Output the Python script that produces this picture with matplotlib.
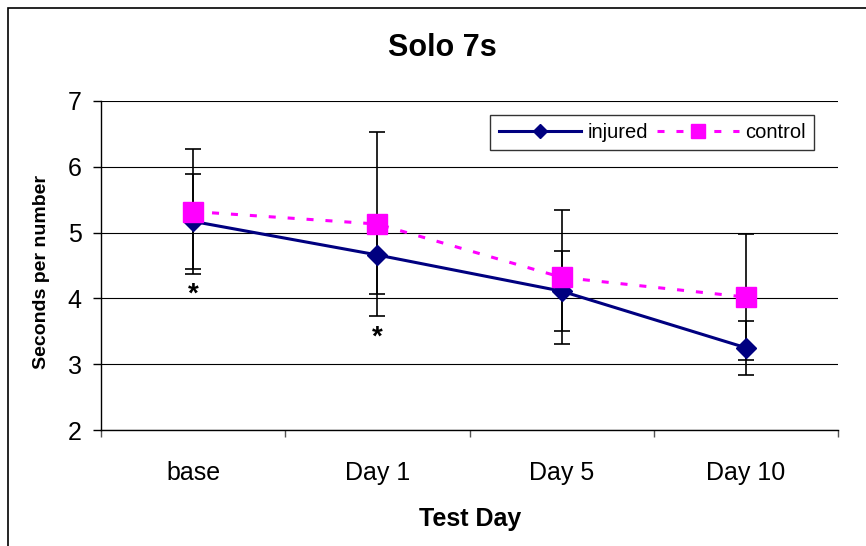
import matplotlib
matplotlib.use("Agg")
import matplotlib.pyplot as plt
from matplotlib.lines import Line2D
from matplotlib.patches import Rectangle
from matplotlib.transforms import offset_copy

categories = ['base', 'Day 1', 'Day 5', 'Day 10']
injured = [5.17, 4.66, 4.11, 3.25]
injured_err = [0.72, 0.59, 0.61, 0.41]
control = [5.32, 5.13, 4.32, 4.02]
control_err = [0.95, 1.40, 1.02, 0.96]
significant = [True, True, False, False]
yticks = [2, 3, 4, 5, 6, 7]

plt.rcParams['font.family'] = ['Liberation Sans', 'DejaVu Sans']

W, H = 866, 546
fig = plt.figure(figsize=(W / 100, H / 100), dpi=100)
ax = fig.add_axes([101 / W, 1 - 430 / H, (838 - 101) / W, (430 - 101) / H])

x = list(range(len(categories)))
navy = '#000080'
mag = '#FF00FF'

ax.errorbar(x, injured, yerr=injured_err, fmt='none', ecolor='black',
            elinewidth=1.2, capsize=6, capthick=1.2, zorder=3)
ax.errorbar(x, control, yerr=control_err, fmt='none', ecolor='black',
            elinewidth=1.2, capsize=6, capthick=1.2, zorder=3)
ax.plot(x, injured, color=navy, lw=2.2, marker='D', markersize=10.5,
        markerfacecolor=navy, markeredgecolor=navy, zorder=4)
ax.plot(x, control, color=mag, lw=2.2, linestyle=(0, (2.3, 3.9)), marker='s',
        markersize=14, markerfacecolor=mag, markeredgecolor=mag, zorder=5)

# significance asterisks below lowest error bar end
for i, sig in enumerate(significant):
    if sig:
        low = min(injured[i] - injured_err[i], control[i] - control_err[i])
        tr = offset_copy(ax.transData, fig=fig, x=0, y=-28, units='dots')
        ax.text(i, low, '*', transform=tr, ha='center', va='baseline',
                fontsize=20, fontweight='bold', color='black', zorder=6)

ax.set_xlim(-0.5, len(categories) - 0.5)
ax.set_ylim(2, 7)
ax.set_yticks(yticks)
ax.set_yticklabels([str(t) for t in yticks], fontsize=18)
ax.set_xticks(x)
ax.set_xticklabels(categories, fontsize=18)
ax.set_xticks([i - 0.5 for i in range(len(categories) + 1)], minor=True)
ax.tick_params(axis='x', which='major', length=0, pad=22)
ax.tick_params(axis='x', which='minor', length=5, width=1.0, color='#555555')
ax.tick_params(axis='y', which='major', length=6, width=1.0, pad=8)

ax.grid(axis='y', color='black', lw=0.8, zorder=0)
ax.set_axisbelow(True)
for s in ['top', 'right']:
    ax.spines[s].set_visible(False)
ax.spines['left'].set_linewidth(1.0)
ax.spines['bottom'].set_linewidth(1.0)

fig.text(442 / W, 1 - 48 / H, 'Solo 7s', fontsize=22, fontweight='bold',
         ha='center', va='center')
fig.text(470 / W, 1 - 519 / H, 'Test Day', fontsize=18, fontweight='bold',
         ha='center', va='center')
fig.text(42 / W, 1 - 272 / H, 'Seconds per number', fontsize=14,
         fontweight='bold', ha='center', va='center', rotation=90)

handles = [
    Line2D([], [], color=navy, lw=2.2, marker='D', markersize=7,
           markerfacecolor=navy, markeredgecolor=navy),
    Line2D([], [], color=mag, lw=2.2, linestyle=(0, (2.3, 3.9)), marker='s',
           markersize=10, markerfacecolor=mag, markeredgecolor=mag),
]
leg = fig.legend(handles, ['injured', 'control'], loc='upper right',
                 bbox_to_anchor=(814 / W, 1 - 115 / H), ncol=2, fontsize=14.5,
                 frameon=True, fancybox=False, edgecolor='black',
                 handlelength=4.1, handletextpad=0.3, columnspacing=0.45,
                 borderpad=0.4, borderaxespad=0)
leg.get_frame().set_linewidth(1.0)

fig.patches.append(Rectangle((8 / W, -0.5), 1.5, (1 - 8 / H) + 0.5,
                             transform=fig.transFigure, fill=False,
                             edgecolor='black', lw=1.2))

fig.savefig('out.png', dpi=100)
